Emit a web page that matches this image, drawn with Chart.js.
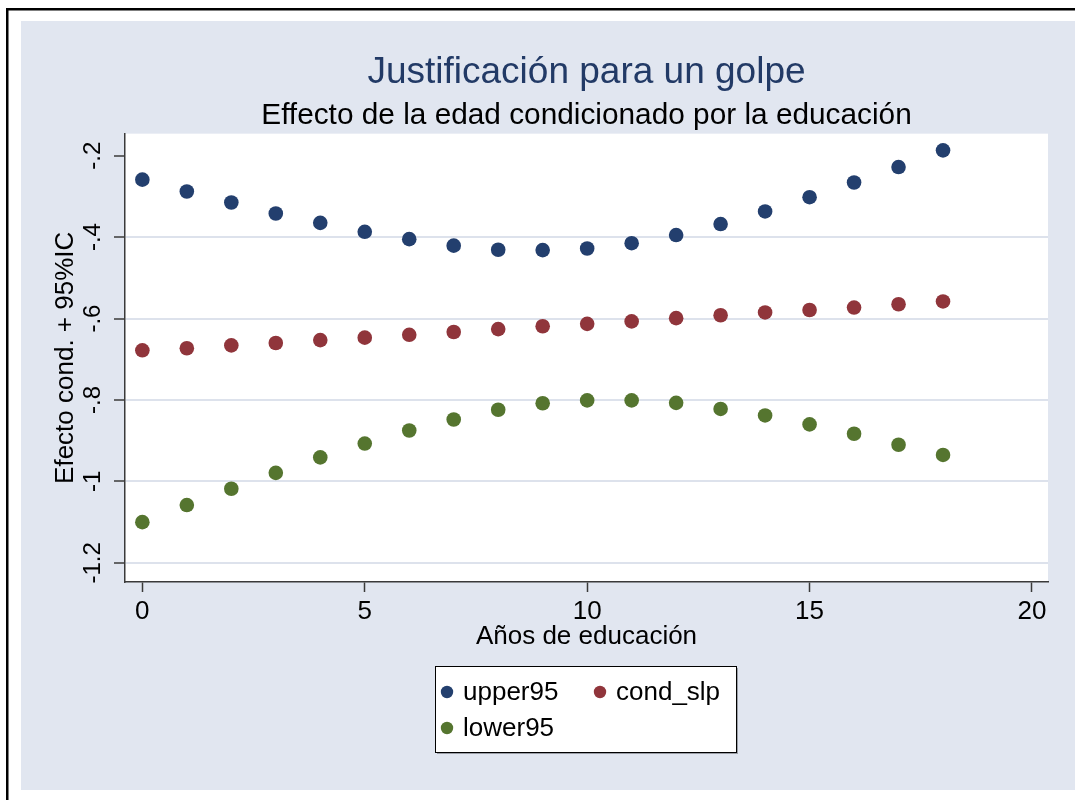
<!DOCTYPE html>
<html lang="es">
<head>
<meta charset="utf-8">
<title>Justificación para un golpe</title>
<script src="https://cdn.jsdelivr.net/npm/chart.js@4/dist/chart.umd.min.js"></script>
<style>
  html, body { margin: 0; padding: 0; background: #fff; }
  canvas { display: block; }
</style>
</head>
<body>
<canvas id="chart" width="1075" height="800"></canvas>
<script>
// Years of schooling and the conditional age effect with its 95% bounds
const years    = [0, 1, 2, 3, 4, 5, 6, 7, 8, 9, 10, 11, 12, 13, 14, 15, 16, 17, 18];
const upper95  = [-0.259, -0.288, -0.315, -0.342, -0.365, -0.387, -0.405, -0.421, -0.431, -0.432,
                  -0.428, -0.415, -0.395, -0.368, -0.337, -0.302, -0.266, -0.228, -0.187];
const condSlp  = [-0.678, -0.673, -0.666, -0.660, -0.653, -0.647, -0.640, -0.633, -0.626, -0.619,
                  -0.613, -0.607, -0.599, -0.592, -0.585, -0.579, -0.573, -0.565, -0.558];
const lower95  = [-1.100, -1.058, -1.018, -0.979, -0.941, -0.907, -0.875, -0.848, -0.824, -0.808,
                  -0.801, -0.801, -0.807, -0.822, -0.838, -0.860, -0.883, -0.910, -0.935];
const seriesNames = ['upper95', 'cond_slp', 'lower95'];

const xTickValues = [0, 5, 10, 15, 20];
const yTickValues = [-1.2, -1, -0.8, -0.6, -0.4, -0.2];
const yTickLabels = ['-1.2', '-1', '-.8', '-.6', '-.4', '-.2'];

const FONT = '"Liberation Sans", Arial, Helvetica, sans-serif';
const PANEL = '#e1e6f0';
const GRID = '#dde2ec';
const AXIS = '#3a3a3a';
const COLORS = ['#233f6e', '#90353b', '#55752f'];

Chart.defaults.font.family = FONT;
Chart.defaults.color = '#000';

const toPoints = ys => years.map((x, i) => ({ x, y: ys[i] }));

// Outer frame, light panel and white plot region
const backdrop = {
  id: 'backdrop',
  beforeDraw(chart) {
    const { ctx, width, height, chartArea: a } = chart;
    ctx.save();
    ctx.fillStyle = '#fff';
    ctx.fillRect(0, 0, width, height);
    ctx.fillStyle = '#000';
    ctx.fillRect(6, 8, width - 6, 2.5);
    ctx.fillRect(6, 8, 2.5, height - 8);
    ctx.fillStyle = PANEL;
    ctx.fillRect(21, 21, width - 21, 769);
    ctx.fillStyle = '#fff';
    ctx.fillRect(a.left, a.top, a.right - a.left, a.bottom - a.top);
    ctx.restore();
  }
};

// Boxed two-column legend under the axis title
const boxLegend = {
  id: 'boxLegend',
  afterDraw(chart) {
    const { ctx } = chart;
    const box = { x: 435.5, y: 666.5, w: 301, h: 86 };
    const slots = [[447, 692], [600, 692], [447, 728]];
    ctx.save();
    ctx.fillStyle = '#9a9ea6';
    ctx.fillRect(box.x + 1.5, box.y + 1.5, box.w, box.h);
    ctx.fillStyle = '#fff';
    ctx.fillRect(box.x, box.y, box.w, box.h);
    ctx.strokeStyle = '#000';
    ctx.lineWidth = 1;
    ctx.strokeRect(box.x, box.y, box.w, box.h);
    ctx.font = '26px ' + FONT;
    ctx.textBaseline = 'middle';
    ctx.textAlign = 'left';
    chart.data.datasets.forEach((ds, i) => {
      const [cx, cy] = slots[i];
      ctx.fillStyle = ds.backgroundColor;
      ctx.beginPath();
      ctx.arc(cx, cy, 6.2, 0, Math.PI * 2);
      ctx.fill();
      ctx.fillStyle = '#000';
      ctx.fillText(ds.label, cx + 16, cy + 1);
    });
    ctx.restore();
  }
};

const makeSet = (label, ys, color) => ({
  label,
  data: toPoints(ys),
  backgroundColor: color,
  borderColor: color,
  borderWidth: 0,
  pointRadius: 7.3,
  pointHoverRadius: 7.3
});

new Chart(document.getElementById('chart'), {
  type: 'scatter',
  data: {
    datasets: [
      makeSet(seriesNames[0], upper95, COLORS[0]),
      makeSet(seriesNames[1], condSlp, COLORS[1]),
      makeSet(seriesNames[2], lower95, COLORS[2])
    ]
  },
  options: {
    responsive: false,
    animation: false,
    events: [],
    layout: { padding: { left: 21, right: 27, top: 0, bottom: 0 } },
    plugins: {
      legend: { display: false },
      tooltip: { enabled: false },
      title: {
        display: true,
        text: 'Justificación para un golpe',
        fullSize: false,
        color: '#223a66',
        font: { size: 37, weight: 'normal', lineHeight: 1.2 },
        padding: { top: 50.5, bottom: 0 }
      },
      subtitle: {
        display: true,
        text: 'Effecto de la edad condicionado por la educación',
        fullSize: false,
        color: '#000',
        font: { size: 29.8, weight: 'normal', lineHeight: 1.2 },
        padding: { top: 2.5, bottom: 0.5 }
      }
    },
    scales: {
      x: {
        type: 'linear',
        position: 'bottom',
        min: -0.39,
        max: 20.36,
        afterBuildTicks: s => { s.ticks = xTickValues.map(v => ({ value: v })); },
        afterFit: s => { s.height = 218; },
        ticks: {
          font: { size: 26 },
          color: '#000',
          padding: 4.5,
          maxRotation: 0,
          autoSkip: false,
          callback: v => String(v)
        },
        grid: {
          drawOnChartArea: false,
          drawTicks: true,
          tickLength: 10,
          tickColor: AXIS,
          tickWidth: 1.5
        },
        border: { display: true, color: AXIS, width: 1.5 },
        title: {
          display: true,
          text: 'Años de educación',
          color: '#000',
          font: { size: 26, lineHeight: 1.2 },
          padding: { top: 0, bottom: 148 }
        }
      },
      y: {
        type: 'linear',
        position: 'left',
        min: -1.247,
        max: -0.146,
        afterBuildTicks: s => { s.ticks = yTickValues.map(v => ({ value: v })); },
        afterFit: s => { s.width = 104; },
        ticks: {
          font: { size: 24 },
          color: '#000',
          minRotation: 90,
          maxRotation: 90,
          crossAlign: 'center',
          padding: 0,
          autoSkip: false,
          callback: (v, i) => yTickLabels[i]
        },
        grid: {
          drawOnChartArea: true,
          drawTicks: true,
          tickLength: 11,
          color: c => (c.tick && Math.abs(c.tick.value + 0.2) < 1e-6) ? 'rgba(0,0,0,0)' : GRID,
          lineWidth: 2,
          tickColor: AXIS,
          tickWidth: 1.5
        },
        border: { display: true, color: AXIS, width: 1.5 },
        title: {
          display: true,
          text: 'Efecto cond. + 95%IC',
          color: '#000',
          font: { size: 26, lineHeight: 1.2 },
          padding: { top: 29.5, bottom: 0 }
        }
      }
    }
  },
  plugins: [backdrop, boxLegend]
});
</script>
</body>
</html>
